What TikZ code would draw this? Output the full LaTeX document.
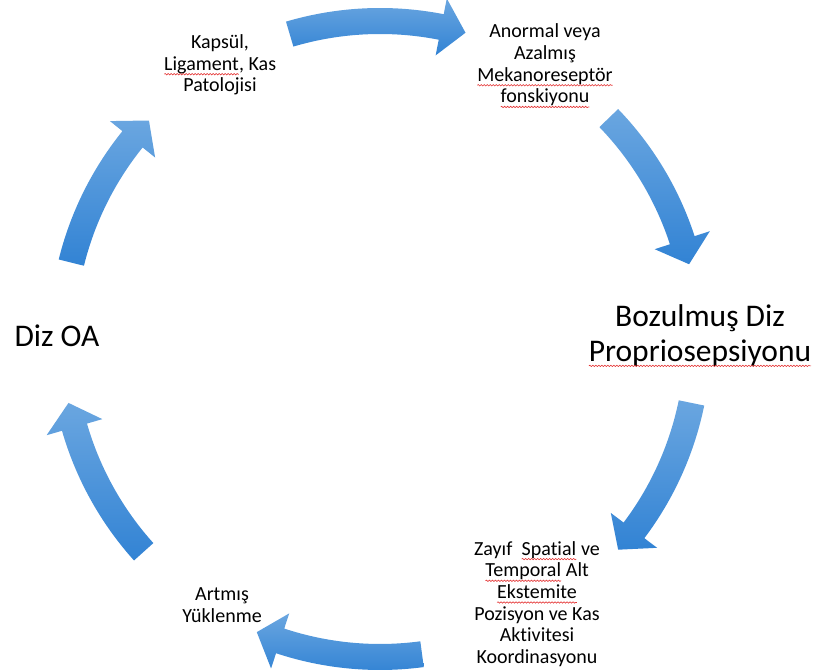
\documentclass[tikz,border=0pt]{standalone}
\usepackage{fontspec}
\setmainfont{Carlito}[Ligatures=NoCommon]
\usetikzlibrary{calc,decorations.pathmorphing}
\definecolor{blueTop}{RGB}{106,166,224}
\definecolor{blueBot}{RGB}{50,131,212}
\definecolor{spellred}{RGB}{228,52,52}
\tikzset{
  arrowfill/.style={top color=blueTop, bottom color=blueBot, draw=none},
  small/.style={align=center, font=\fontsize{20}{21.7}\selectfont, inner sep=0pt},
  big/.style={align=center, font=\fontsize{31.5}{35}\selectfont, inner sep=0pt},
  wavy/.style={spellred, line width=0.6pt, decorate,
    decoration={snake, amplitude=0.7pt, segment length=3pt}}
}
\newcommand\spl[1]{\tikz[baseline=(w.base)]{\node[inner sep=0pt,outer sep=0pt] (w) {#1};
  \draw[wavy] ([yshift=-4pt]w.base west) -- ([yshift=-4pt]w.base east);}}
\newcommand\cyc[2]{%
  \pgfmathsetmacro\ah{#2+4.5}%
  \shade[arrowfill] ($(C)+(#1:331pt)$) arc[start angle=#1, end angle=\ah, radius=331pt]
    -- ($(C)+(\ah:347pt)$) -- ($(C)+(#2:318pt)$) -- ($(C)+(\ah:289pt)$)
    -- ($(C)+(\ah:305pt)$) arc[start angle=\ah, end angle=#1, radius=305pt] -- cycle;}
\begin{document}
\begin{tikzpicture}[x=1pt,y=1pt]
  \useasboundingbox (0,0) rectangle (815,671);
  \coordinate (C) at (380,332);
  % arrows
  \cyc{106.5}{74.4}
  \cyc{44}{13.6}
  \cyc{-11.6}{-41.5}
  \cyc{-82.4}{-112.8}
  \cyc{-138}{-168.4}
  \cyc{166.1}{136.6}
  % texts
  \node[small] (kapsul) at (220,606) {Kapsül,\\\spl{Ligament}, Kas\\Patolojisi};
  \node[small] (anormal) at (545,605) {Anormal veya\\Azalmış\\\spl{Mekanoreseptör}\\\spl{fonskiyonu}};
  \node[big] (bozulmus) at (700,335) {Bozulmuş Diz\\\spl{Propriosepsiyonu}};
  \node[small] (zayif) at (537,67) {Zayıf~ \spl{Spatial} ve\\\spl{Temporal} Alt\\\spl{Ekstemite}\\Pozisyon ve Kas\\Aktivitesi\\Koordinasyonu};
  \node[small] (artmis) at (222,66) {Artmış\\Yüklenme};
  \node[big] (dizoa) at (57,335) {Diz OA};
\end{tikzpicture}
\end{document}
